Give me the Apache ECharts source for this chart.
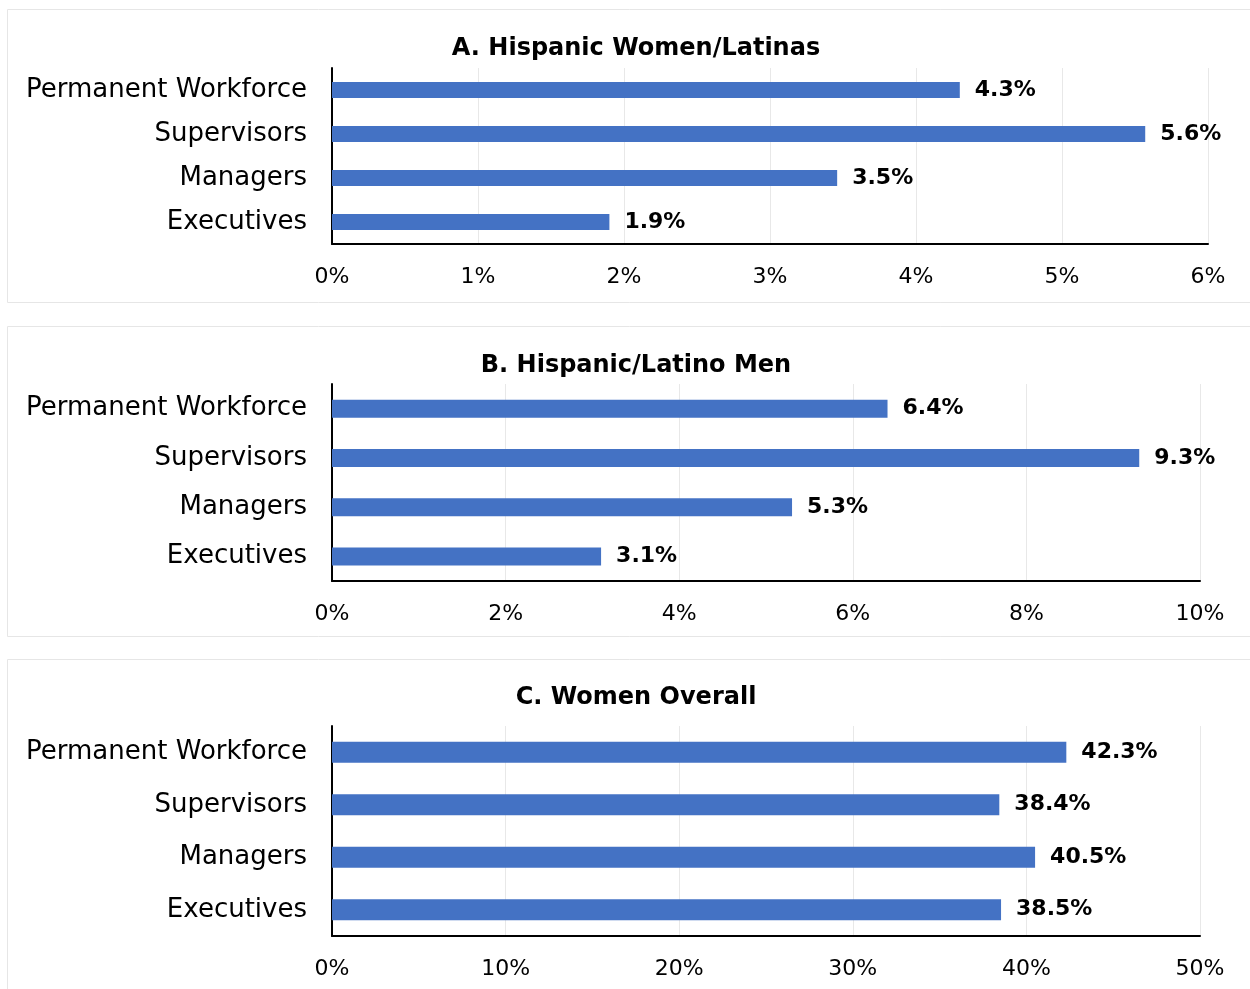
<!DOCTYPE html>
<html><head><meta charset="utf-8">
<script src="https://cdn.jsdelivr.net/npm/echarts@6/dist/echarts.min.js"></script>
<style>html,body{margin:0;padding:0;background:#fff}#c{width:1250px;height:989px}</style>
</head><body><div id="c"></div>
<script>
const categories = ['Permanent Workforce', 'Supervisors', 'Managers', 'Executives'];
const titles = ['A. Hispanic Women/Latinas', 'B. Hispanic/Latino Men', 'C. Women Overall'];
const valuesA = [4.3, 5.57, 3.46, 1.9];
const valuesB = [6.4, 9.3, 5.3, 3.1];
const valuesC = [42.3, 38.44, 40.5, 38.54];
const axisMax = [6, 10, 50];
const axisInterval = [1, 2, 10];

const FONT = 'DejaVu Sans';
const grids = [
  {left: 332, top: 68, width: 876, height: 176},
  {left: 332, top: 384, width: 868, height: 197},
  {left: 332, top: 726, width: 868, height: 210}
];
const titleTops = [32, 349, 681];
const barWidths = [16, 18, 21];
const allValues = [valuesA, valuesB, valuesC];

const option = {
  animation: false,
  backgroundColor: '#fff',
  graphic: [
    {type: 'rect', shape: {x: 7.5, y: 9.5, width: 1260, height: 293}, style: {fill: 'none', stroke: '#e6e6e6', lineWidth: 1}},
    {type: 'rect', shape: {x: 7.5, y: 326.5, width: 1260, height: 310}, style: {fill: 'none', stroke: '#e6e6e6', lineWidth: 1}},
    {type: 'rect', shape: {x: 7.5, y: 659.5, width: 1260, height: 340}, style: {fill: 'none', stroke: '#e6e6e6', lineWidth: 1}}
  ],
  title: titles.map((t, i) => ({
    text: t, left: 631, top: titleTops[i], textAlign: 'center',
    textStyle: {fontFamily: FONT, fontWeight: 'bold', fontSize: 24, color: '#000'}
  })),
  grid: grids,
  xAxis: grids.map((g, i) => ({
    type: 'value', gridIndex: i, min: 0, max: axisMax[i], interval: axisInterval[i],
    axisLine: {show: true, lineStyle: {color: '#000', width: 2}},
    axisTick: {show: false},
    splitLine: {show: true, lineStyle: {color: '#e8e8e8', width: 1}},
    axisLabel: {formatter: v => v + '%', fontFamily: FONT, fontSize: 22, color: '#000', margin: 22}
  })),
  yAxis: grids.map((g, i) => ({
    type: 'category', gridIndex: i, data: categories, inverse: true,
    axisLine: {show: true, lineStyle: {color: '#000', width: 2}},
    axisTick: {show: false},
    axisLabel: {fontFamily: FONT, fontSize: 26, color: '#000', margin: 25}
  })),
  series: allValues.map((vals, i) => ({
    type: 'bar', xAxisIndex: i, yAxisIndex: i, data: vals, barWidth: barWidths[i],
    itemStyle: {color: '#4472C4'},
    label: {show: true, position: 'right', distance: 15, formatter: p => p.value.toFixed(1) + '%',
      fontFamily: FONT, fontWeight: 'bold', fontSize: 22, color: '#000'}
  }))
};
const chart = echarts.init(document.getElementById('c'));
chart.setOption(option);
</script></body></html>
